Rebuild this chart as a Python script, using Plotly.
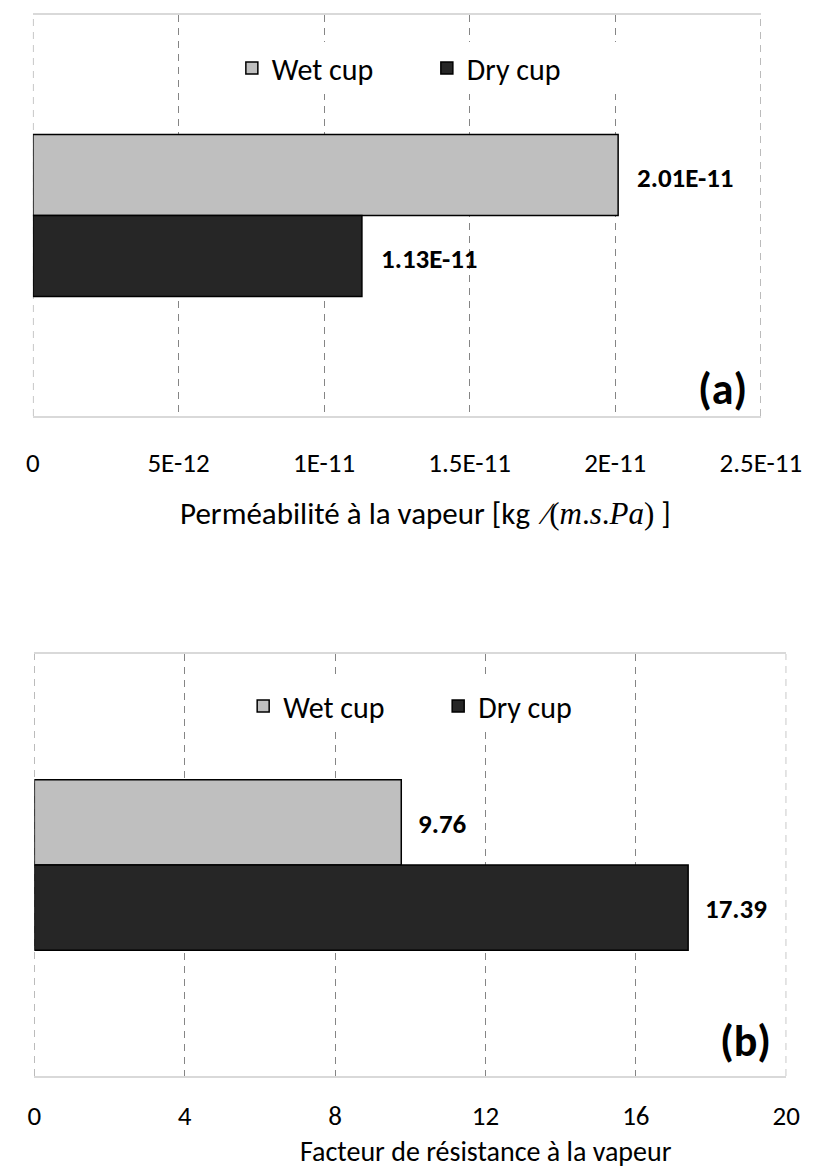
import plotly.graph_objects as go

# ---------------- data ----------------
series_names = ["Wet cup", "Dry cup"]
category = ["Matériau"]

permeability = [2.01e-11, 1.13e-11]          # kg/(m.s.Pa)
resistance = [9.76, 17.39]                   # facteur de résistance

ticks_a = [0, 5e-12, 1e-11, 1.5e-11, 2e-11, 2.5e-11]
ticktext_a = ["0", "5E-12", "1E-11", "1.5E-11", "2E-11", "2.5E-11"]
ticks_b = [0, 4, 8, 12, 16, 20]
ticktext_b = ["0", "4", "8", "12", "16", "20"]

labels_a = [f"{v:.2E}" for v in permeability]
labels_b = [f"{v:.2f}" for v in resistance]

title_a = ("Perméabilité à la vapeur [kg&nbsp;&nbsp;<span style='font-family:\"Liberation Serif\",\"DejaVu Serif\",serif'>∕(<i>m</i>.<i>s</i>.<i>Pa</i>)</span> ]")
title_b = "Facteur de résistance à la vapeur"

# ---------------- style ----------------
FONT = "Carlito, 'Liberation Sans Narrow', 'Open Sans', sans-serif"
colors = ["#bfbfbf", "#262626"]
GRID = "#858585"
W, H = 840, 1170

def px(x):
    return x / W

def py(y):
    return 1 - y / H

fig = go.Figure()

for i, name in enumerate(series_names):
    fig.add_trace(go.Bar(
        x=[permeability[i]], y=category, orientation="h", name=name,
        marker=dict(color=colors[i], line=dict(color="#000000", width=1.5)),
        xaxis="x", yaxis="y", legend="legend", hoverinfo="x+name",
    ))
for i, name in enumerate(series_names):
    fig.add_trace(go.Bar(
        x=[resistance[i]], y=category, orientation="h", name=name,
        marker=dict(color=colors[i], line=dict(color="#000000", width=1.5)),
        xaxis="x2", yaxis="y2", legend="legend2", hoverinfo="x+name",
    ))

bargap = 0.596
half = (1 - bargap) / 4
offsets = [-half, half]

annotations = []
for i in range(2):
    annotations.append(dict(
        x=permeability[i], y=offsets[i], xref="x", yref="y", text=f"<b>{labels_a[i]}</b>",
        showarrow=False, xanchor="left", yanchor="middle", xshift=17, yshift=-3,
        font=dict(family=FONT, size=27, color="#000000")))
    annotations.append(dict(
        x=resistance[i], y=offsets[i], xref="x2", yref="y2", text=f"<b>{labels_b[i]}</b>",
        showarrow=False, xanchor="left", yanchor="middle", xshift=15, yshift=-1,
        font=dict(family=FONT, size=27, color="#000000")))

annotations += [
    dict(x=px(778), y=py(381), xref="paper", yref="paper", text="<b>(a)</b>", showarrow=False,
         xanchor="right", yanchor="middle", font=dict(family=FONT, size=44, color="#000000")),
    dict(x=px(804), y=py(1033), xref="paper", yref="paper", text="<b>(b)</b>", showarrow=False,
         xanchor="right", yanchor="middle", font=dict(family=FONT, size=44, color="#000000")),
    dict(x=px(435), y=py(505), xref="paper", yref="paper", text=title_a, showarrow=False,
         xanchor="center", yanchor="middle", font=dict(family=FONT, size=31, color="#000000")),
    dict(x=px(500), y=py(1143), xref="paper", yref="paper", text=title_b, showarrow=False,
         xanchor="center", yanchor="middle", font=dict(family=FONT, size=28, color="#000000")),
]

# dashed lines at the range edges (plotly clips gridlines at the plot edges)
shapes = []
for xa, ya, tv in (("x", "y", ticks_a), ("x2", "y2", ticks_b)):
    for v in (tv[0], tv[-1]):
        shapes.append(dict(type="line", xref=xa, yref=f"{ya} domain", x0=v, x1=v, y0=0, y1=1,
                           line=dict(color=GRID, width=1, dash="7px,6px"), layer="below"))

grid = dict(showgrid=True, gridcolor=GRID, gridwidth=1, griddash="7px,6px",
            zeroline=False, showline=True, mirror=True, linecolor="#d9d9d9", linewidth=2,
            ticks="", tickfont=dict(family=FONT, size=27, color="#000000"),
            fixedrange=True)

fig.update_layout(
    width=W, height=H,
    margin=dict(l=0, r=0, t=0, b=0),
    paper_bgcolor="white", plot_bgcolor="white",
    barmode="group", bargap=bargap, bargroupgap=0,
    font=dict(family=FONT, size=28, color="#000000"),
    xaxis=dict(domain=[px(19), px(791)], range=[0, 2.5e-11], tickvals=ticks_a, ticktext=ticktext_a,
               anchor="y", ticklabelstandoff=22, **grid),
    yaxis=dict(domain=[py(408), py(7)], range=[0.5, -0.5], showticklabels=False, showgrid=False,
               zeroline=False, showline=False, anchor="x", fixedrange=True),
    xaxis2=dict(domain=[px(20.5), px(818)], range=[0, 20], tickvals=ticks_b, ticktext=ticktext_b,
                anchor="y2", ticklabelstandoff=15, **grid),
    yaxis2=dict(domain=[py(1068), py(646)], range=[0.5, -0.5], showticklabels=False, showgrid=False,
                zeroline=False, showline=False, anchor="x2", fixedrange=True),
    legend=dict(orientation="h", x=px(230), y=py(60), xanchor="left", yanchor="middle",
                bgcolor="white", font=dict(family=FONT, size=30, color="#000000"),
                entrywidth=150, entrywidthmode="pixels", itemclick=False, itemdoubleclick=False),
    legend2=dict(orientation="h", x=px(242), y=py(698), xanchor="left", yanchor="middle",
                 bgcolor="white", font=dict(family=FONT, size=30, color="#000000"),
                 entrywidth=150, entrywidthmode="pixels", itemclick=False, itemdoubleclick=False),
    annotations=annotations,
    shapes=shapes,
    showlegend=True,
)

fig.write_html("out.html")
